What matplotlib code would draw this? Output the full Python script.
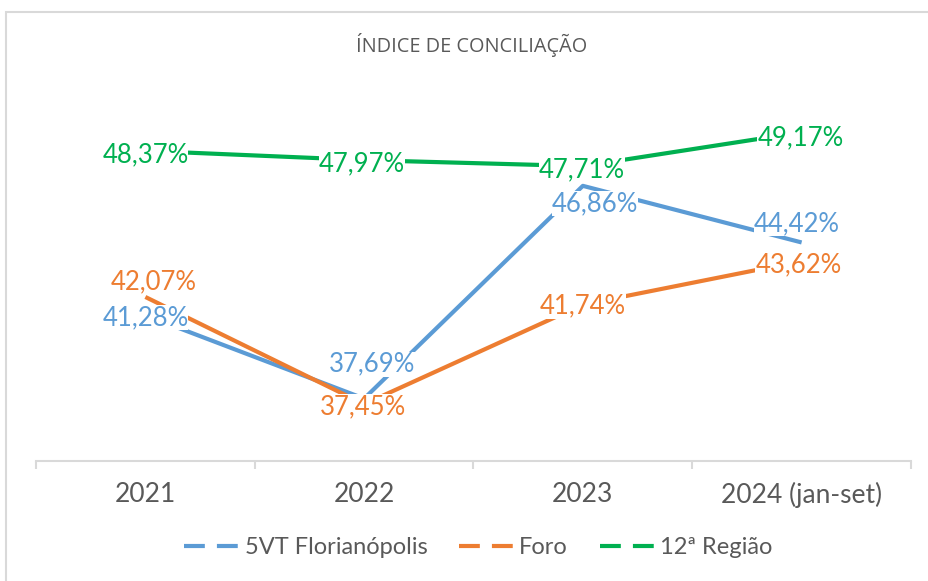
import matplotlib
matplotlib.use("Agg")
import matplotlib.pyplot as plt
from matplotlib.lines import Line2D
from matplotlib.patches import Rectangle

plt.rcParams['font.family'] = ['Lato', 'DejaVu Sans']

# data
anos = ["2021", "2022", "2023", "2024 (jan-set)"]
vt_floripa = [41.28, 37.69, 46.86, 44.42]
foro = [42.07, 37.45, 41.74, 43.62]
regiao12 = [48.37, 47.97, 47.71, 49.17]

series = [
    ("5VT Florianópolis", vt_floripa, "#5B9BD5"),
    ("Foro", foro, "#ED7D31"),
    ("12ª Região", regiao12, "#00B050"),
]

# label offsets (pixels, label centre relative to point, y up)
offsets = {
    "5VT Florianópolis": [(0, -1), (8, 36), (12, -16), (-5, 20)],
    "Foro": [(8, 17), (-1, -1), (0, 0), (-3, -2)],
    "12ª Região": [(0, -2), (-2, -2), (-1, -2), (-1, -4)],
}

fig = plt.figure(figsize=(9.29, 5.81), dpi=100)
ax = fig.add_axes([36 / 929, 1 - 461 / 581, 875 / 929, 348 / 581])

# outer light frame (only top and left edges fall inside the image)
fig.patches.append(Rectangle((6 / 929, -0.2), 1.2, 1.2 - 12 / 581, transform=fig.transFigure,
                             fill=False, edgecolor="#D9D9D9", linewidth=1.5))

x = list(range(len(anos)))
for nome, vals, cor in series:
    ax.plot(x, vals, color=cor, linewidth=3, solid_capstyle="butt", zorder=2)
    for xi, v, (dx, dy) in zip(x, vals, offsets[nome]):
        ax.annotate(f"{v:.2f}%".replace(".", ","), (xi, v),
                    xytext=(dx, dy - 9), textcoords="offset pixels",
                    ha="center", va="baseline", fontsize=18.5, color=cor,
                    bbox=dict(facecolor="white", edgecolor="none", pad=0),
                    zorder=5)

ax.set_xlim(-0.5, 3.5)
ax.set_ylim(35, 50)
ax.set_yticks([])
for s in ["top", "right", "left"]:
    ax.spines[s].set_visible(False)
ax.spines["bottom"].set_color("#D9D9D9")
ax.spines["bottom"].set_linewidth(1.5)

ax.set_xticks(x)
ax.set_xticklabels(anos, fontsize=19, color="#595959")
ax.set_xticks([-0.5, 0.5, 1.5, 2.5, 3.5], minor=True)
ax.tick_params(axis="x", which="major", length=0, pad=15)
ax.tick_params(axis="x", which="minor", length=6, width=1.5, color="#D9D9D9")

fig.text(472 / 929, 1 - 45 / 581, "ÍNDICE DE CONCILIAÇÃO", ha="center", va="center",
         fontsize=14.3, color="#595959", family=["Open Sans", "DejaVu Sans"])

handles = [Line2D([], [], color=cor, linewidth=3, dashes=(5, 2.9), dash_capstyle="butt")
           for _, _, cor in series]
fig.legend(handles, [s[0] for s in series], loc="center", bbox_to_anchor=(0.515, 1 - 548 / 581),
           ncol=3, frameon=False, fontsize=17, labelcolor="#595959",
           handlelength=2.3, handletextpad=0.25, columnspacing=1.35)

fig.savefig("out.png", dpi=100)
